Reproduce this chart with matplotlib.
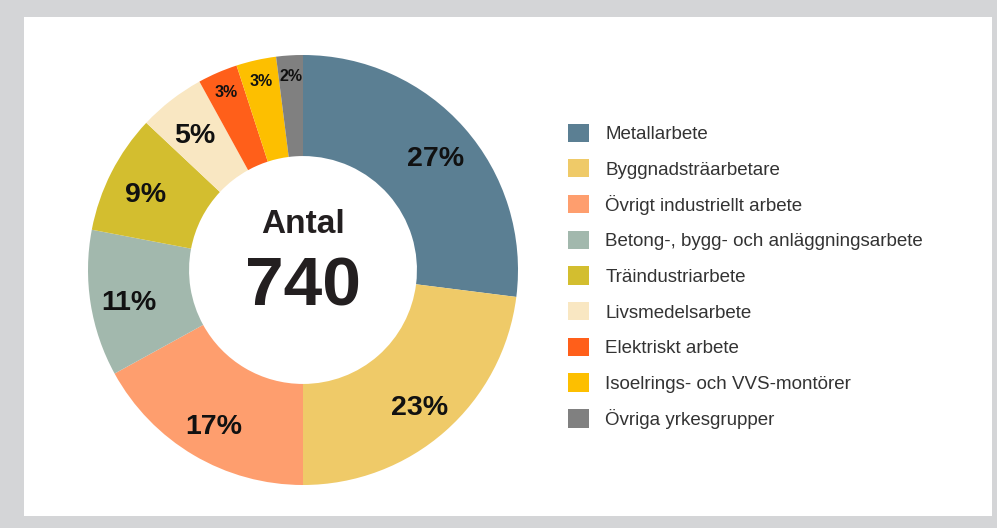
import numpy as np
import matplotlib
matplotlib.use('Agg')
import matplotlib.pyplot as plt
from matplotlib.patches import Rectangle

# Andel per yrkesgrupp (procent), medurs från kl. 12
categories = ["Metallarbete", "Byggnadsträarbetare", "Övrigt industriellt arbete",
              "Betong-, bygg- och anläggningsarbete", "Träindustriarbete",
              "Livsmedelsarbete", "Elektriskt arbete", "Isoelrings- och VVS-montörer",
              "Övriga yrkesgrupper"]
shares = [27, 23, 17, 11, 9, 5, 3, 3, 2]
total = 740
colors = ["#5b7f93", "#efca68", "#fe9e6e", "#a2b8ad", "#d3be2f",
          "#f9e7c2", "#ff5f1a", "#fdbf00", "#808080"]

plt.rcParams['font.family'] = ['Liberation Sans', 'DejaVu Sans']

W, H = 997, 528
fig = plt.figure(figsize=(W / 100, H / 100), dpi=100)
fig.patch.set_facecolor('#d4d5d7')
fig.patches.append(Rectangle((24 / W, (H - 516) / H), (992 - 24) / W, (516 - 17) / H,
                             transform=fig.transFigure, facecolor='white',
                             edgecolor='none', zorder=-10))

cx, cy, R = 303, 270, 215
ax = fig.add_axes([(cx - R) / W, (H - cy - R) / H, 2 * R / W, 2 * R / H])
ax.set_aspect('equal')
wedges, _ = ax.pie(shares, colors=colors, startangle=90, counterclock=False,
                   radius=1.0, wedgeprops=dict(width=0.47, edgecolor='none'))
ax.set_xlim(-1, 1)
ax.set_ylim(-1, 1)
ax.axis('off')

# procentetiketter
start = 90.0
for v in shares:
    mid = np.deg2rad(start - v * 3.6 / 2)
    start -= v * 3.6
    big = v >= 5
    r = 0.82 if big else 0.9
    ax.text(r * np.cos(mid), r * np.sin(mid) - (0.025 if big else 0.0), f"{v}%",
            ha='center', va='center', fontsize=20.5 if big else 11.5,
            fontweight='bold', color='#111111')

ax.text(0, 0.21, "Antal", ha='center', va='center', fontsize=24,
        fontweight='bold', color='#231f20')
ax.text(0, -0.08, str(total), ha='center', va='center', fontsize=50,
        fontweight='bold', color='#231f20')

leg = fig.legend(wedges, categories, loc='upper left',
                 bbox_to_anchor=(560 / W, (H - 116) / H), frameon=False,
                 fontsize=13.5, handlelength=1.12, handleheight=1.12,
                 handletextpad=0.9, labelspacing=0.86, borderaxespad=0)
for t in leg.get_texts():
    t.set_color('#333333')

fig.savefig('out.png', dpi=100, facecolor=fig.get_facecolor())
